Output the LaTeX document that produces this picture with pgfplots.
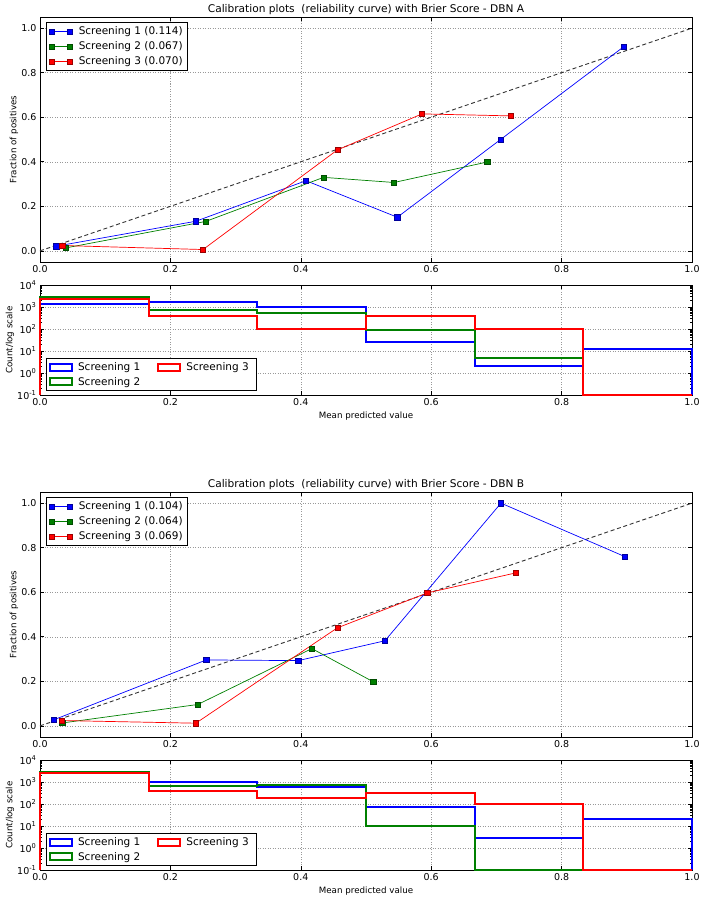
\documentclass[border=0pt]{standalone}
\usepackage{fontspec}
\setmainfont{DejaVu Sans}
\usepackage{pgfplots}
\pgfplotsset{compat=1.18}
\definecolor{mblue}{rgb}{0,0,1}
\definecolor{mgreen}{rgb}{0,0.5,0}
\definecolor{mred}{rgb}{1,0,0}
\pgfplotsset{
  myBase/.style={
    scale only axis, width=652pt, xmin=0, xmax=1,
    xtick={0,0.2,0.4,0.6,0.8,1.0},
    xticklabel style={/pgf/number format/.cd, fixed, fixed zerofill, precision=1},
    /pgf/number format/assume math mode=true,
    tick label style={font=\fontsize{9.5}{11}\selectfont},
    label style={font=\fontsize{8.7}{10}\selectfont},
    grid=major,
    major grid style={black!40, line width=0.5pt, dash pattern=on 1pt off 1.5pt},
    tick style={black, line width=0.6pt},
    axis line style={line width=0.8pt},
    tick align=inside,
    clip=false,
  },
  myCalib/.style={myBase, height=245pt, ymin=-0.05, ymax=1.05,
    ytick={0,0.2,0.4,0.6,0.8,1.0},
    yticklabel style={/pgf/number format/.cd, fixed, fixed zerofill, precision=1},
    ylabel={Fraction of positives},
    ylabel style={at={(axis description cs:-0.0399,0.5)}, anchor=center},
    title style={at={(axis description cs:0.5,1)}, anchor=center, yshift=1.3pt, font=\fontsize{10.6}{12}\selectfont},
  },
  myHist/.style={myBase, height=110pt,
    ytick={0.1,1,10,100,1000,10000},
    yticklabels={10\textsuperscript{-1},10\textsuperscript{0},10\textsuperscript{1},10\textsuperscript{2},10\textsuperscript{3},10\textsuperscript{4}},
    minor tick length=2pt,
    ylabel={Count/log scale},
    ylabel style={at={(axis description cs:-0.046,0.5)}, anchor=center},
    xlabel={Mean predicted value},
    xlabel style={at={(axis description cs:0.5,-0.188)}, anchor=center},
  },
  callegimg/.style={legend image code/.code={\draw[mark repeat=2, mark phase=1, ##1] plot coordinates {(0pt,0pt) (9pt,0pt) (18pt,0pt)};}},
  histlegimg/.style={legend image code/.code={\draw[##1, fill=none] (0pt,-3.5pt) rectangle (22pt,3.5pt); \path (25pt,0pt);}},
  cal1/.style={mblue, line width=0.7pt, mark=square*, mark size=2.6pt, mark options={fill=mblue, draw=mblue!60!black, line width=0.4pt}},
  cal2/.style={mgreen, line width=0.7pt, mark=square*, mark size=2.6pt, mark options={fill=mgreen, draw=mgreen!60!black, line width=0.4pt}},
  cal3/.style={mred, line width=0.7pt, mark=square*, mark size=2.6pt, mark options={fill=mred, draw=mred!60!black, line width=0.4pt}},
  perfect/.style={black!80, line width=0.9pt, dash pattern=on 4pt off 2.7pt, mark=none, forget plot},
}
\begin{document}
\begin{tikzpicture}
\path[use as bounding box] (0,0) rectangle (704pt,-902pt);
% ---------------- DBN A calibration
\begin{axis}[myCalib, at={(40pt,-262pt)}, anchor=south west,
  title={Calibration plots\ \ (reliability curve) with Brier Score - DBN A},
  legend style={at={(axis description cs:0.0087,0.978)}, anchor=north west, draw=black, line width=0.8pt,
    font=\fontsize{10.5}{12}\selectfont, inner xsep=3pt, inner ysep=2pt, cells={anchor=west},
    /tikz/every odd column/.append style={column sep=4.5pt}, row sep=1.5pt},
  callegimg]
\addplot[perfect] coordinates {(0,0) (1,1)};
\addplot[cal1] coordinates {(0.025,0.021) (0.239,0.133) (0.408,0.315) (0.548,0.151) (0.706,0.499) (0.895,0.916)};
\addlegendentry{Screening 1 (0.114)}
\addplot[cal2] coordinates {(0.039,0.013) (0.254,0.132) (0.435,0.330) (0.543,0.307) (0.686,0.399)};
\addlegendentry{Screening 2 (0.067)}
\addplot[cal3] coordinates {(0.034,0.024) (0.250,0.006) (0.456,0.453) (0.586,0.615) (0.722,0.606)};
\addlegendentry{Screening 3 (0.070)}
\end{axis}
% ---------------- DBN A histogram
\begin{axis}[myHist, at={(40pt,-395pt)}, anchor=south west,
    ymode=log, ymin=0.1, ymax=10000,
    legend columns=2,
    legend style={at={(axis description cs:0.0087,0.036)}, anchor=south west, draw=black, line width=0.8pt,
      font=\fontsize{10.5}{12}\selectfont, inner xsep=3pt, inner ysep=2pt, cells={anchor=west}, row sep=1pt},
    histlegimg]
\addplot[mblue, line width=2pt, const plot, mark=none, forget plot] coordinates {(0,0.1) (0,1410) (0.16667,1690) (0.33333,1035) (0.5,26) (0.66667,2) (0.83333,12) (1,12) (1,0.1)};
\addplot[mgreen, line width=2pt, const plot, mark=none, forget plot] coordinates {(0,0.1) (0,2760) (0.16667,720) (0.33333,540) (0.5,89) (0.66667,5) (0.83333,0.1) (1,0.1) (1,0.1)};
\addplot[mred, line width=2pt, const plot, mark=none, forget plot] coordinates {(0,0.1) (0,2310) (0.16667,380) (0.33333,104) (0.5,390) (0.66667,96) (0.83333,0.1) (1,0.1) (1,0.1)};
\addlegendimage{mblue, line width=2pt}
\addlegendentry{Screening 1\hspace*{15pt}\mbox{}}
\addlegendimage{mred, line width=2pt}
\addlegendentry{Screening 3\hspace*{3pt}\mbox{}}
\addlegendimage{mgreen, line width=2pt}
\addlegendentry{Screening 2\hspace*{15pt}\mbox{}}
\end{axis}
% ---------------- DBN B calibration
\begin{axis}[myCalib, at={(40pt,-737pt)}, anchor=south west,
  title={Calibration plots\ \ (reliability curve) with Brier Score - DBN B},
  legend style={at={(axis description cs:0.0087,0.978)}, anchor=north west, draw=black, line width=0.8pt,
    font=\fontsize{10.5}{12}\selectfont, inner xsep=3pt, inner ysep=2pt, cells={anchor=west},
    /tikz/every odd column/.append style={column sep=4.5pt}, row sep=1.5pt},
  callegimg]
\addplot[perfect] coordinates {(0,0) (1,1)};
\addplot[cal1] coordinates {(0.021,0.027) (0.255,0.296) (0.396,0.293) (0.529,0.382) (0.707,1.0) (0.897,0.760)};
\addlegendentry{Screening 1 (0.104)}
\addplot[cal2] coordinates {(0.034,0.013) (0.242,0.096) (0.417,0.347) (0.511,0.198)};
\addlegendentry{Screening 2 (0.064)}
\addplot[cal3] coordinates {(0.033,0.024) (0.239,0.012) (0.456,0.440) (0.594,0.597) (0.730,0.687)};
\addlegendentry{Screening 3 (0.069)}
\end{axis}
% ---------------- DBN B histogram
\begin{axis}[myHist, at={(40pt,-870pt)}, anchor=south west,
    ymode=log, ymin=0.1, ymax=10000,
    legend columns=2,
    legend style={at={(axis description cs:0.0087,0.036)}, anchor=south west, draw=black, line width=0.8pt,
      font=\fontsize{10.5}{12}\selectfont, inner xsep=3pt, inner ysep=2pt, cells={anchor=west}, row sep=1pt},
    histlegimg]
\addplot[mblue, line width=2pt, const plot, mark=none, forget plot] coordinates {(0,0.1) (0,2900) (0.16667,1040) (0.33333,575) (0.5,75) (0.66667,3) (0.83333,21) (1,21) (1,0.1)};
\addplot[mgreen, line width=2pt, const plot, mark=none, forget plot] coordinates {(0,0.1) (0,2800) (0.16667,660) (0.33333,700) (0.5,10) (0.66667,0.1) (0.83333,0.1) (1,0.1) (1,0.1)};
\addplot[mred, line width=2pt, const plot, mark=none, forget plot] coordinates {(0,0.1) (0,2450) (0.16667,380) (0.33333,180) (0.5,330) (0.66667,100) (0.83333,0.1) (1,0.1) (1,0.1)};
\addlegendimage{mblue, line width=2pt}
\addlegendentry{Screening 1\hspace*{15pt}\mbox{}}
\addlegendimage{mred, line width=2pt}
\addlegendentry{Screening 3\hspace*{3pt}\mbox{}}
\addlegendimage{mgreen, line width=2pt}
\addlegendentry{Screening 2\hspace*{15pt}\mbox{}}
\end{axis}
\end{tikzpicture}
\end{document}
